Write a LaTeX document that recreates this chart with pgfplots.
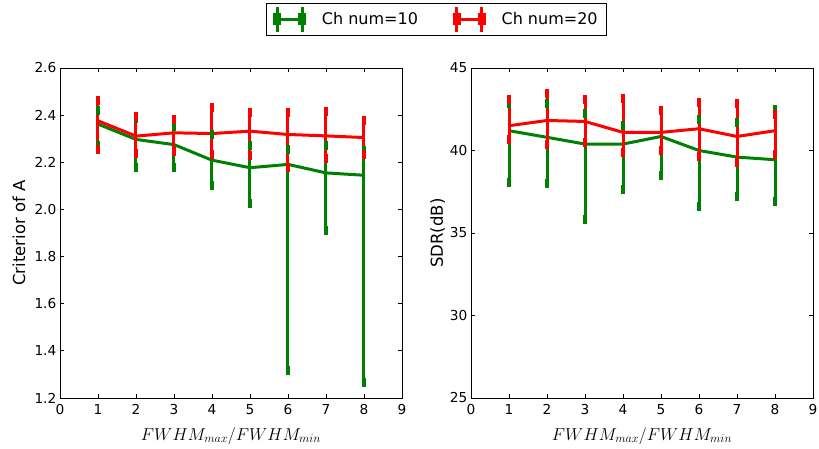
\documentclass[border=0pt]{standalone}
\usepackage{fontspec}
\setmainfont{DejaVu Sans}
\usepackage{pgfplots}
\usepackage{pgfplotstable}
\pgfplotsset{compat=1.18}

\definecolor{mplgreen}{rgb}{0,0.5,0}
\definecolor{mplred}{rgb}{1,0,0}

% x, mean, low end, high end of the bars
\pgfplotstableread{
x y lo hi
1 2.362 2.270 2.421
2 2.297 2.180 2.385
3 2.275 2.180 2.350
4 2.209 2.102 2.319
5 2.177 2.024 2.272
6 2.191 1.315 2.254
7 2.155 1.911 2.272
8 2.145 1.265 2.251
}\critA
\pgfplotstableread{
x y lo hi
1 2.376 2.254 2.461
2 2.311 2.237 2.393
3 2.325 2.244 2.382
4 2.322 2.233 2.431
5 2.332 2.230 2.410
6 2.318 2.180 2.410
7 2.312 2.216 2.414
8 2.305 2.234 2.379
}\critB
\pgfplotstableread{
x y lo hi
1 41.20 38.09 42.82
2 40.80 37.99 42.82
3 40.39 35.81 42.27
4 40.39 37.62 41.50
5 40.85 38.49 42.43
6 40.00 36.58 41.87
7 39.60 37.22 41.67
8 39.44 36.92 42.47
}\sdrA
\pgfplotstableread{
x y lo hi
1 41.50 40.65 43.12
2 41.82 40.35 43.44
3 41.76 40.49 43.12
4 41.10 39.88 43.18
5 41.10 40.00 42.43
6 41.32 39.64 42.92
7 40.85 39.28 42.82
8 41.20 39.75 42.21
}\sdrB

\pgfplotsset{
  panel/.style={
    scale only axis, width=342pt, height=330pt,
    xmin=0, xmax=9, xtick={0,...,9},
    tick align=inside, major tick length=4pt,
    axis line style={line width=0.8pt},
    every tick/.style={black, line width=0.8pt},
    tick label style={font=\fontsize{13.7}{16}\selectfont},
    /pgf/number format/assume math mode=true,
    xticklabel style={anchor=base, yshift=-16pt},
    yticklabel style={inner sep=0pt, xshift=-3.5pt},
    label style={font=\fontsize{16.5}{19}\selectfont},
    xlabel={$FWHM_{max}/FWHM_{min}$},
    xlabel style={at={(axis description cs:0.5,0)}, anchor=base, yshift=-42pt},
  },
  ebar/.style={
    line width=3pt, no markers,
    /pgfplots/error bars/y dir=both,
    /pgfplots/error bars/y explicit,
    /pgfplots/error bars/error bar style={line width=3pt},
    /pgfplots/error bars/error mark=none,
  },
  caps/.style={only marks, mark=|, mark size=4.5pt,
    mark options={line width=4.4pt}, forget plot},
  ebarlegend/.style={
    legend image code/.code={
      \draw[line width=3pt] (0pt,0pt) -- (25pt,0pt);
      \draw[line width=3pt] (0pt,-12.5pt) -- (0pt,12.5pt);
      \draw[line width=3pt] (25pt,-12.5pt) -- (25pt,12.5pt);
      \fill (-2.3pt,-4.5pt) rectangle (2.3pt,4.5pt);
      \fill (22.7pt,-4.5pt) rectangle (27.3pt,4.5pt);
    }
  },
}

\begin{document}
\begin{tikzpicture}
\begin{axis}[panel, at={(0pt,0pt)},
  ymin=1.2, ymax=2.6, ytick={1.2,1.4,1.6,1.8,2.0,2.2,2.4,2.6},
  yticklabel style={/pgf/number format/.cd, fixed, fixed zerofill, precision=1},
  ylabel={Criterior of A},
  ylabel style={at={(axis description cs:-0.1023,0.5)}, anchor=base},
  legend columns=2,
  legend style={at={(axis description cs:1.1009,1.147)}, anchor=center,
    draw=black, line width=0.8pt, inner xsep=7pt, inner ysep=2pt,
    font=\fontsize{16}{19}\selectfont,
    /tikz/every odd column/.append style={column sep=14pt},
    /tikz/every even column/.append style={column sep=33pt}},
]
\addplot[mplgreen, ebarlegend, ebar] table[x=x, y=y,
  y error plus expr=\thisrow{hi}-\thisrow{y},
  y error minus expr=\thisrow{y}-\thisrow{lo}] {\critA};
\addlegendentry{Ch num=10}
\addplot[mplred, ebarlegend, ebar] table[x=x, y=y,
  y error plus expr=\thisrow{hi}-\thisrow{y},
  y error minus expr=\thisrow{y}-\thisrow{lo}] {\critB};
\addlegendentry{Ch num=20}
\addplot[mplgreen, caps] table[x=x, y=hi] {\critA};
\addplot[mplgreen, caps] table[x=x, y=lo] {\critA};
\addplot[mplred, caps] table[x=x, y=hi] {\critB};
\addplot[mplred, caps] table[x=x, y=lo] {\critB};
\end{axis}

\begin{axis}[panel, at={(411pt,0pt)},
  ymin=25, ymax=45, ytick={25,30,35,40,45},
  ylabel={SDR(dB)},
  ylabel style={at={(axis description cs:-0.0819,0.5)}, anchor=base},
]
\addplot[mplgreen, ebar] table[x=x, y=y,
  y error plus expr=\thisrow{hi}-\thisrow{y},
  y error minus expr=\thisrow{y}-\thisrow{lo}] {\sdrA};
\addplot[mplred, ebar] table[x=x, y=y,
  y error plus expr=\thisrow{hi}-\thisrow{y},
  y error minus expr=\thisrow{y}-\thisrow{lo}] {\sdrB};
\addplot[mplgreen, caps] table[x=x, y=hi] {\sdrA};
\addplot[mplgreen, caps] table[x=x, y=lo] {\sdrA};
\addplot[mplred, caps] table[x=x, y=hi] {\sdrB};
\addplot[mplred, caps] table[x=x, y=lo] {\sdrB};
\end{axis}

\pgfresetboundingbox
\useasboundingbox (-60pt,-50pt) rectangle (759pt,398pt);
\end{tikzpicture}
\end{document}
